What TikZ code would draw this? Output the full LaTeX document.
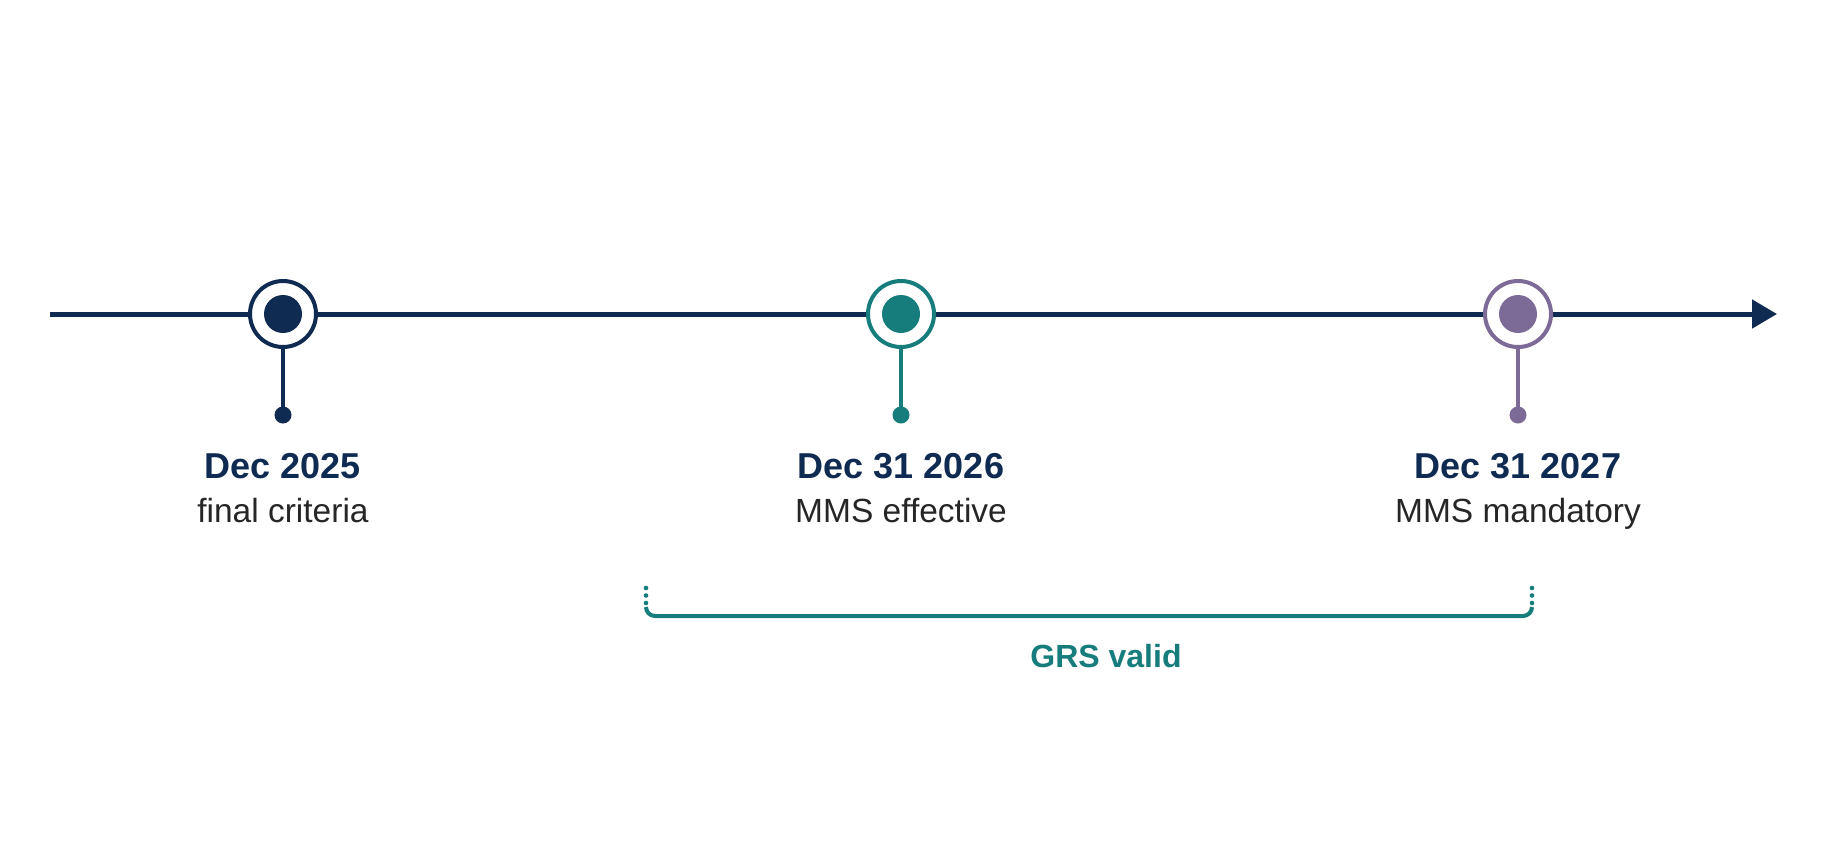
\documentclass[tikz,border=0pt]{standalone}
\usepackage{fontspec}
\setmainfont{Liberation Sans}
\usetikzlibrary{arrows.meta}
\definecolor{navy}{HTML}{0F2B52}
\definecolor{teal}{HTML}{167C7C}
\definecolor{purp}{HTML}{7C6B96}
\definecolor{txt}{HTML}{262626}
\tikzset{
  ring/.style={circle, draw=#1, line width=4pt, fill=white, minimum size=66pt, inner sep=0pt},
  core/.style={circle, fill=#1, minimum size=38pt, inner sep=0pt},
  pin/.style={circle, fill=#1, minimum size=17pt, inner sep=0pt},
  stem/.style={draw=#1, line width=3.5pt},
  title/.style={anchor=base, text=navy, font=\fontsize{36}{40}\selectfont\bfseries},
  sub/.style={anchor=base, text=txt, font=\fontsize{33.5}{40}\selectfont},
}
\begin{document}
\begin{tikzpicture}[x=1pt,y=-1pt]
\useasboundingbox[fill=white] (0,0) rectangle (1823,863);
% axis
\coordinate (start) at (50,314);
\coordinate (end) at (1777,314);
\draw[navy, line width=5pt, -{Triangle[length=25pt,width=28pt]}] (start) -- (end);
% markers
\foreach \n/\x/\c in {a/283/navy, b/901/teal, c/1518/purp}{
  \node[ring=\c] (r\n) at (\x,314) {};
  \node[core=\c] (k\n) at (\x,314) {};
  \node[pin=\c] (p\n) at (\x,415) {};
  \draw[stem=\c] (r\n.south) -- (p\n.center);
}
% labels
\node[title] (ta) at (283,478) {Dec 2025};
\node[sub] (sa) at (283,522) {final criteria};
\node[title] (tb) at (901,478) {Dec 31 2026};
\node[sub] (sb) at (901,522) {MMS effective};
\node[title] (tc) at (1518,478) {Dec 31 2027};
\node[sub] (sc) at (1518,522) {MMS mandatory};
% bracket
\coordinate (bl) at (646,607);
\coordinate (br) at (1532,607);
\draw[teal, line width=4pt, rounded corners=9pt] (bl) -- (646,616) -- (1532,616) -- (br);
\foreach \y in {588,595.5,603}{
  \fill[teal] (646,\y) circle (2.3pt);
  \fill[teal] (1532,\y) circle (2.3pt);
}
\node[anchor=base, text=teal, font=\fontsize{32}{36}\selectfont\bfseries] (grs) at (1106,667) {GRS valid};
\end{tikzpicture}
\end{document}
